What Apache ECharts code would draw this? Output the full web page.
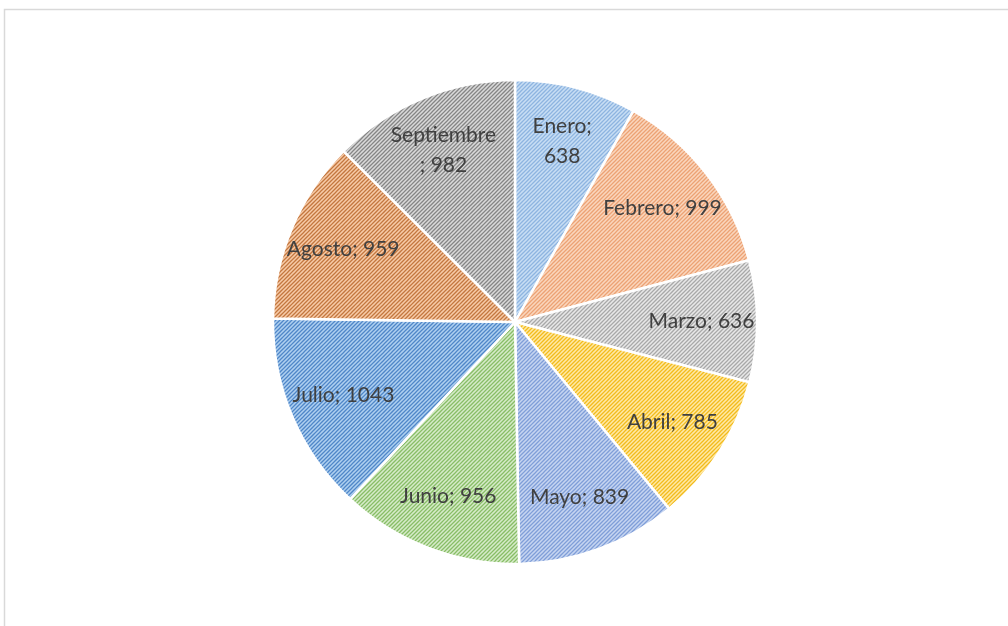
<!DOCTYPE html>
<html><head><meta charset="utf-8">
<script src="https://cdn.jsdelivr.net/npm/echarts@6/dist/echarts.min.js"></script>
<style>html,body{margin:0;padding:0;background:#fff;}#c{width:1008px;height:626px;}</style>
</head><body><div id="c"></div>
<script>
const categories = ['Enero','Febrero','Marzo','Abril','Mayo','Junio','Julio','Agosto','Septiembre'];
const values = [638, 999, 636, 785, 839, 956, 1043, 959, 982];
const bgColors = ['#c8def4','#fad6bd','#e8e8e8','#ffe9a6','#c6d5f1','#d6ebc9','#afd0f0','#f7cba8','#dadada'];
const lineColors = ['#8db4e0','#eca274','#a8a8a8','#f2bb1c','#7f9ed8','#88bd66','#4f86c8','#c3773f','#858585'];

function makePattern(bg, fg){
  const c = document.createElement('canvas');
  c.width = 8; c.height = 8;
  const g = c.getContext('2d');
  g.fillStyle = bg; g.fillRect(0,0,8,8);
  g.strokeStyle = fg; g.lineWidth = 1.25;
  for (let o = -8; o <= 8; o += 4){
    g.beginPath(); g.moveTo(o-1, 9); g.lineTo(o+9, -1); g.stroke();
  }
  return c;
}

const data = categories.map((n,i)=>({
  name:n, value:values[i],
  itemStyle:{color:{image:makePattern(bgColors[i], lineColors[i]), repeat:'repeat'}}
}));

const chart = echarts.init(document.getElementById('c'), null, {renderer:'canvas'});
chart.setOption({
  animation:false,
  graphic:[{type:'rect', shape:{x:4.5,y:9.5,width:1010,height:630}, style:{fill:'none', stroke:'#d9d9d9', lineWidth:1.5}, silent:true}],
  series:[
    {type:'pie', center:[515,322], radius:[0,242], startAngle:90, clockwise:true,
     label:{show:false}, labelLine:{show:false},
     itemStyle:{borderColor:'#ffffff', borderWidth:2.5},
     emphasis:{disabled:true}, data:data},
    {type:'pie', center:[515,322], radius:[125,242], startAngle:90, clockwise:true, silent:true,
     itemStyle:{color:'rgba(0,0,0,0)'},
     label:{show:true, position:'inside', color:'#404040', fontFamily:'Lato', fontSize:21, lineHeight:30,
       formatter:function(p){
         if (p.name==='Enero') return p.name+';\n'+p.value;
         if (p.name==='Septiembre') return p.name+'\n; '+p.value;
         return p.name+'; '+p.value;
       }},
     labelLine:{show:false}, emphasis:{disabled:true},
     data:categories.map((n,i)=>({name:n, value:values[i]}))}
  ]
});
</script></body></html>
